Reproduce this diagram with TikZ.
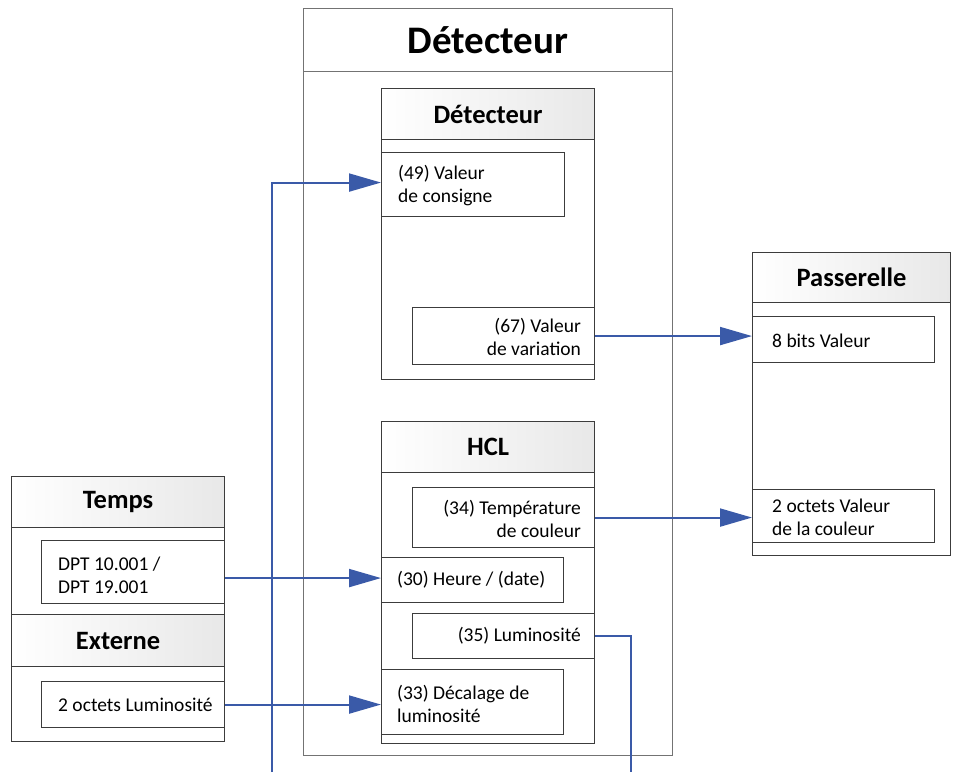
\documentclass[tikz,border=0pt]{standalone}
\usepackage{fontspec}
\setmainfont{Carlito}
\usetikzlibrary{arrows.meta}
\definecolor{conn}{RGB}{58,90,168}
\definecolor{frame}{RGB}{60,60,60}
\definecolor{outerframe}{RGB}{115,115,115}
\tikzset{
  frameb/.style={draw=frame, line width=1.1pt, anchor=north west, inner sep=0pt},
  head/.style={frameb, left color=white, right color=black!9, font=\fontsize{26.5}{30}\selectfont\bfseries},
  cell/.style={draw=frame, line width=1.1pt, fill=white, anchor=north west, inner sep=0pt},
  txt/.style={inner sep=0pt, font=\fontsize{19.5}{23}\selectfont},
  ltxt/.style={txt, anchor=west, align=left},
  rtxt/.style={txt, anchor=east, align=right},
  link/.style={draw=conn, line width=2pt},
  arr/.style={link, -{Triangle[length=32pt,width=18pt]}}
}
\begin{document}
\begin{tikzpicture}[x=1pt,y=-1pt]
\useasboundingbox (0,0) rectangle (953,772);
% main device
\node[frameb, draw=outerframe, minimum width=369pt, minimum height=747pt] (dev) at (303,8) {};
\node[frameb, draw=outerframe, minimum width=369pt, minimum height=63pt, font=\fontsize{39}{44}\selectfont\bfseries] (devtitle) at (303,8) {Détecteur};
% inner Détecteur
\node[frameb, minimum width=213pt, minimum height=291pt] (det) at (381,88) {};
\node[head, minimum width=213pt, minimum height=51pt] (dethead) at (381,88) {Détecteur};
\node[cell, minimum width=183pt, minimum height=64pt] (c49) at (381,152) {};
\node[ltxt] (c49t) at ([xshift=17pt,yshift=-1pt]c49.west) {(49) Valeur\\de consigne};
\node[cell, minimum width=182pt, minimum height=57pt] (v67) at (412,307) {};
\node[rtxt] (v67t) at ([xshift=-14pt,yshift=-1pt]v67.east) {(67) Valeur\\de variation};
% HCL
\node[frameb, minimum width=213pt, minimum height=322pt] (hcl) at (381,421) {};
\node[head, minimum width=213pt, minimum height=51pt] (hclhead) at (381,421) {HCL};
\node[cell, minimum width=182pt, minimum height=60pt] (t34) at (412,487) {};
\node[rtxt] (t34t) at ([xshift=-14pt,yshift=-1pt]t34.east) {(34) Température\\de couleur};
\node[cell, minimum width=182pt, minimum height=45pt] (h30) at (381,557) {};
\node[ltxt] (h30t) at ([xshift=16pt]h30.west) {(30) Heure / (date)};
\node[cell, minimum width=182pt, minimum height=45pt] (l35) at (412,613) {};
\node[rtxt] (l35t) at ([xshift=-14pt]l35.east) {(35) Luminosité};
\node[cell, minimum width=182pt, minimum height=65pt] (d33) at (381,669) {};
\node[ltxt] (d33t) at ([xshift=16pt,yshift=-2pt]d33.west) {(33) Décalage de\\luminosité};
% Passerelle
\node[frameb, minimum width=198pt, minimum height=303pt] (gw) at (752,252) {};
\node[head, minimum width=198pt, minimum height=50pt] (gwhead) at (752,252) {Passerelle};
\node[cell, minimum width=182pt, minimum height=46pt] (bits) at (752,316) {};
\node[ltxt] (bitst) at ([xshift=20pt,yshift=-1pt]bits.west) {8 bits Valeur};
\node[cell, minimum width=182pt, minimum height=53pt] (oct) at (752,489) {};
\node[ltxt] (octt) at ([xshift=20pt,yshift=-1pt]oct.west) {2 octets Valeur\\de la couleur};
% Temps / Externe
\node[frameb, minimum width=213pt, minimum height=265pt] (ext) at (11,476) {};
\node[head, minimum width=213pt, minimum height=51pt] (tmphead) at (11,476) {Temps};
\node[head, minimum width=213pt, minimum height=52pt] (exthead) at (11,614) {Externe};
\node[cell, minimum width=183pt, minimum height=63pt] (dpt) at (41,540) {};
\node[ltxt] (dptt) at ([xshift=17pt,yshift=-3pt]dpt.west) {DPT 10.001 /\\DPT 19.001};
\node[cell, minimum width=183pt, minimum height=46pt] (lum) at (41,681) {};
\node[ltxt] (lumt) at ([xshift=17pt]lum.west) {2 octets Luminosité};
% connectors
\coordinate (inA) at (272,772);
\coordinate (outB) at (631,772);
\draw[arr] (inA) |- ([yshift=2pt]c49.west);
\draw[arr] ([yshift=2pt]dpt.east |- h30.west) -- ([yshift=2pt]h30.west);
\draw[arr] (lum.east) -- (lum.east -| d33.west);
\draw[arr] (v67.east) -- (v67.east -| bits.west);
\draw[arr] (t34.east) -- (t34.east -| oct.west);
\draw[link] (l35.east) -| (outB);
\end{tikzpicture}
\end{document}
